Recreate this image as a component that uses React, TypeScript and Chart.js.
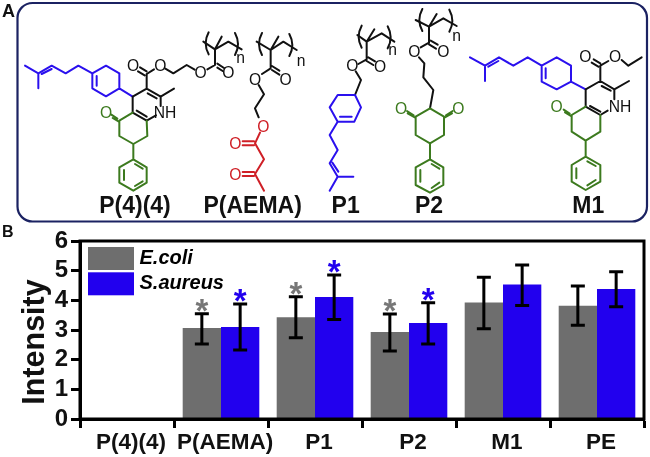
import React, { useEffect, useRef } from "react";
import { Chart, registerables } from "chart.js";

Chart.register(...registerables);

const categories = ["P(4)(4)", "P(AEMA)", "P1", "P2", "M1", "PE"];
const ecoli = [null, 3.07, 3.43, 2.93, 3.93, 3.82];
const saureus = [null, 3.1, 4.11, 3.24, 4.53, 4.38];
const ecoliHigh = [null, 3.55, 4.12, 3.54, 4.78, 4.48];
const ecoliLow = [null, 2.53, 2.74, 2.29, 3.04, 3.16];
const saureusHigh = [null, 3.88, 4.85, 3.92, 5.19, 4.96];
const saureusLow = [null, 2.33, 3.35, 2.53, 3.83, 3.78];
const ecoliStar = [false, true, true, true, false, false];
const saureusStar = [false, true, true, true, false, false];

const GRAY = "#6e6e6e";
const BLUE = "#2200ee";
const FONT = "'Liberation Sans', Arial, sans-serif";
const NAVY = "#1b2262";
const GREEN = "#3c7a1e";
const RED = "#cf1f26";
const VIOLET = "#2a10ee";

const errors = [
  { high: ecoliHigh, low: ecoliLow, star: ecoliStar, starColor: "#777777" },
  { high: saureusHigh, low: saureusLow, star: saureusStar, starColor: BLUE },
];

const annotations = {
  id: "annotations",
  afterDatasetsDraw(chart: any) {
    const { ctx, chartArea, scales } = chart;
    const y = scales.y;
    ctx.save();
    errors.forEach((e, di) => {
      const bars = chart.getDatasetMeta(di).data;
      e.high.forEach((hi, i) => {
        const lo = e.low[i];
        if (hi == null || lo == null) return;
        const x = bars[i].x;
        const top = y.getPixelForValue(hi);
        const bottom = y.getPixelForValue(lo);
        ctx.strokeStyle = "#000";
        ctx.lineWidth = 3;
        ctx.beginPath();
        ctx.moveTo(x, top);
        ctx.lineTo(x, bottom);
        ctx.moveTo(x - 7, top);
        ctx.lineTo(x + 7, top);
        ctx.moveTo(x - 7, bottom);
        ctx.lineTo(x + 7, bottom);
        ctx.stroke();
        if (e.star[i]) {
          ctx.fillStyle = e.starColor;
          ctx.font = `bold 33px ${FONT}`;
          ctx.textAlign = "center";
          ctx.textBaseline = "alphabetic";
          ctx.fillText("*", x, top + 8);
        }
      });
    });
    // plot frame
    ctx.strokeStyle = "#000";
    ctx.lineWidth = 3;
    ctx.strokeRect(chartArea.left, chartArea.top, chartArea.right - chartArea.left, chartArea.bottom - chartArea.top);
    // legend
    chart.data.datasets.forEach((ds: any, i: number) => {
      const top = chartArea.top + 6 + i * 25.3;
      ctx.fillStyle = ds.backgroundColor;
      ctx.fillRect(chartArea.left + 8, top, 46, 23);
      ctx.fillStyle = "#000";
      ctx.font = `italic bold 20px ${FONT}`;
      ctx.textAlign = "left";
      ctx.textBaseline = "middle";
      ctx.fillText(ds.label, chartArea.left + 59.5, top + 11.5);
    });
    // axis title
    ctx.translate(43.5, 342);
    ctx.rotate(-Math.PI / 2);
    ctx.fillStyle = "#111";
    ctx.font = `bold 30.5px ${FONT}`;
    ctx.textAlign = "center";
    ctx.textBaseline = "alphabetic";
    ctx.fillText("Intensity", 0, 0);
    ctx.restore();
  },
};

type Atom = [string, number, number];
function Mol({ d, color, atoms = [] }: { d: string; color: string; atoms?: Atom[] }) {
  return (
    <g>
      <path d={d} fill="none" stroke={color} strokeWidth={6} strokeLinejoin="round" strokeLinecap="round" />
      {atoms.map(([t, x, y], i) => (
        <text key={i} x={x} y={y} dy="0.36em" textAnchor="middle" fontFamily={FONT} fontSize={47} fill={color}>
          {t}
        </text>
      ))}
    </g>
  );
}

function Label({ t, x }: { t: string; x: number }) {
  return (
    <text x={x} y={640} textAnchor="middle" fontFamily={FONT} fontWeight="bold" fontSize={69} fill="#111">
      {t}
    </text>
  );
}

const bracket = (x: number, y: number, dir: number) =>
  `M${x} ${y - 33} Q${x - 18 * dir} ${y} ${x} ${y + 33}`;

function Panel() {
  return (
    <svg width={650} height={457} style={{ position: "absolute", left: 0, top: 0, pointerEvents: "none" }}>
      <rect x={17.5} y={3} width={629.5} height={218.5} rx={15} fill="none" stroke={NAVY} strokeWidth={2.2} />
      <text x={2} y={17} fontFamily={FONT} fontWeight="bold" fontSize={18} fill="#111">A</text>
      <text x={2} y={236.5} fontFamily={FONT} fontWeight="bold" fontSize={16} fill="#111">B</text>
      <g transform="scale(0.33333)">
        {/* P(4)(4) */}
        <Mol color={VIOLET} d="M75 197L115 220L155 197L197 220L235 197L277 220L318 197L358 220L358 265L318 289L277 265L277 220M115 220L115 265M125 222L155 207M290 228L290 257M358 265L398 290" />
        <Mol color="#111" d="M398 290L440 266L482 290L482 318M482 290L522 266M443 280L470 295M398 290L398 338L440 362L468 346M410 332L440 350M440 266L440 222L462 208M434 226L414 214M440 214L420 202M496 206L520 220L560 195L584 209M622 208L645 195L645 148M652 203L668 213M652 191L672 204M610 125L645 148L685 125L725 148M645 148L665 110"
          atoms={[["O", 399, 196], ["O", 481, 195], ["O", 602, 218], ["O", 685, 218], ["NH", 495, 338]]} />
        <Mol color="#111" d={bracket(626, 130, 1) + bracket(705, 132, -1)} atoms={[["n", 722, 172]]} />
        <Mol color={GREEN} d="M398 338L358 362L358 408L400 432L442 408L440 362M358 366L338 354M352 356L334 344M400 432L400 478L440 502L440 548L400 572L358 548L358 502L400 478M372 510L372 540M405 492L428 506M405 558L428 544"
          atoms={[["O", 318, 338]]} />
        {/* P(AEMA) */}
        <Mol color="#111" d="M770 125L812 150L850 125L890 150M812 150L835 110M812 150L812 205L786 222M816 198L838 212M816 210L838 224M776 255L792 283L765 325L776 352"
          atoms={[["O", 765, 238], ["O", 857, 238], ["n", 903, 182]]} />
        <Mol color="#111" d={bracket(786, 132, 1) + bracket(868, 135, -1)} />
        <Mol color={RED} d="M780 398L765 430L792 478L765 522L792 572M762 424L728 424M762 436L728 436M762 516L728 516M762 528L728 528"
          atoms={[["O", 790, 380], ["O", 706, 430], ["O", 706, 522]]} />
        <Label t="P(4)(4)" x={405} />
        <Label t="P(AEMA)" x={758} />
      </g>
      <g transform="translate(325,0) scale(0.33333)">
        {/* P1 */}
        <Mol color="#111" d="M97 105L125 125L170 100L208 125M125 125L148 88M125 125L125 178L100 192M130 172L150 184M125 183L145 195M92 214L108 240L90 285"
          atoms={[["O", 82, 197], ["O", 165, 198], ["n", 203, 148]]} />
        <Mol color="#111" d={bracket(110, 110, 1) + bracket(188, 112, -1)} />
        <Mol color={VIOLET} d="M90 285L108 322L88 365L38 365L14 322L38 285L90 285M45 350L80 350M38 365L14 405L38 450L14 490L38 530L85 530M38 530L14 572M22 488L40 515" />
        {/* P2 */}
        <Mol color="#111" d="M272 60L312 80L355 55L395 78M312 80L335 42M312 80L312 128L287 142M317 122L338 134M312 133L333 146M282 172L298 190L295 232L325 270L315 325"
          atoms={[["O", 268, 155], ["O", 355, 155], ["n", 395, 105]]} />
        <Mol color="#111" d={bracket(292, 60, 1) + bracket(373, 62, -1)} />
        <Mol color={GREEN} d="M315 325L357 350L357 405L315 430L272 405L272 350L315 325M272 354L248 340M266 346L246 333M357 354L381 340M363 346L383 333M315 430L315 478L355 502L355 555L315 578L272 555L272 502L315 478M286 510L286 545M320 492L343 506M320 564L343 548"
          atoms={[["O", 228, 325], ["O", 400, 325]]} />
        {/* M1 */}
        <Mol color={VIOLET} d="M435 172L480 197L522 172L565 197L608 172L650 197L695 172L738 197L738 245L695 268L650 245L650 197M480 197L480 243M490 200L520 183M662 205L662 235M738 245L782 268" />
        <Mol color="#111" d="M782 268L826 243L868 268L868 298M868 268L912 243M830 258L857 272M782 268L782 320L826 345L848 332M795 318L826 335M826 243L826 197L850 183M820 200L800 188M826 190L806 178M890 180L910 197L950 172"
          atoms={[["O", 781, 170], ["O", 870, 170], ["NH", 885, 318]]} />
        <Mol color={GREEN} d="M782 320L740 345L740 395L782 422L826 395L826 345M740 349L720 337M734 341L716 329M782 422L782 470L826 495L826 545L782 570L740 545L740 495L782 470M754 505L754 535M787 484L812 498M787 556L812 540"
          atoms={[["O", 695, 320]]} />
        <Label t="P1" x={62} />
        <Label t="P2" x={312} />
        <Label t="M1" x={790} />
      </g>
    </svg>
  );
}

export default function App() {
  const ref = useRef<HTMLCanvasElement>(null);
  useEffect(() => {
    const chart = new Chart(ref.current!, {
      type: "bar",
      data: {
        labels: categories,
        datasets: [
          { label: "E.coli", data: ecoli, backgroundColor: GRAY },
          { label: "S.aureus", data: saureus, backgroundColor: BLUE },
        ],
      },
      plugins: [annotations],
      options: {
        responsive: false,
        animation: false,
        layout: { padding: { left: 0, top: 241, right: 6, bottom: 0 } },
        datasets: { bar: { categoryPercentage: 0.815, barPercentage: 1 } },
        plugins: { legend: { display: false }, tooltip: { enabled: false } },
        scales: {
          x: {
            afterFit(s: any) {
              s.height = 38;
            },
            grid: { drawOnChartArea: false, drawTicks: true, tickLength: 9, tickWidth: 3, tickColor: "#000" },
            border: { display: true, width: 3, color: "#000" },
            ticks: { color: "#111", padding: 1, labelOffset: 4, maxRotation: 0, autoSkip: false, font: { family: FONT, weight: "bold", size: 22.5 } },
          },
          y: {
            min: 0,
            max: 6,
            afterFit(s: any) {
              s.width = 80;
            },
            grid: { drawOnChartArea: false, drawTicks: true, tickLength: 9, tickWidth: 3, tickColor: "#000" },
            border: { display: true, width: 3, color: "#000" },
            ticks: { stepSize: 1, autoSkip: false, color: "#111", padding: 3, font: { family: FONT, weight: "bold", size: 24 } },
          },
        },
      },
    } as any);
    return () => chart.destroy();
  }, []);
  return (
    <div style={{ position: "absolute", left: 0, top: 0, width: 650, height: 457 }}>
      <canvas ref={ref} width={650} height={457} style={{ display: "block" }} />
      <Panel />
    </div>
  );
}
